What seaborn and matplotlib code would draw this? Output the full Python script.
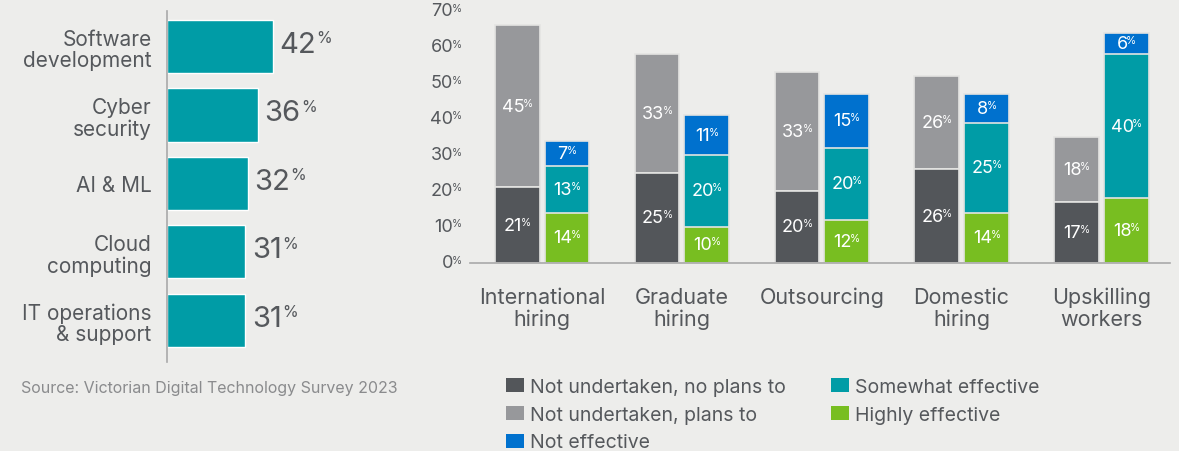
import numpy as np
import pandas as pd
import matplotlib.pyplot as plt
import seaborn as sns
from matplotlib.patches import Patch
from matplotlib.transforms import blended_transform_factory

# Skills in demand (left panel)
skills = ["Software\ndevelopment", "Cyber\nsecurity", "AI & ML", "Cloud\ncomputing", "IT operations\n& support"]
skill_pct = [42, 36, 32, 31, 31]

# Strategies (right panel)
strategies = ["International\nhiring", "Graduate\nhiring", "Outsourcing", "Domestic\nhiring", "Upskilling\nworkers"]
no_plans = [21, 25, 20, 26, 17]
plans_to = [45, 33, 33, 26, 18]
highly = [14, 10, 12, 14, 18]
somewhat = [13, 20, 20, 25, 40]
not_eff = [7, 11, 15, 8, 6]
yticks = [0, 10, 20, 30, 40, 50, 60, 70]

legend_labels = ["Not undertaken, no plans to", "Not undertaken, plans to", "Not effective",
                 "Somewhat effective", "Highly effective"]

# colours
bg = "#ededeb"
txt = "#55585c"
dark = "#53565a"
grey = "#97989b"
blue = "#0071ce"
teal = "#009ca6"
green = "#78be21"
edge = "#e4e4e2"

sns.set_theme(style="white")
plt.rcParams["font.family"] = ["Inter", "DejaVu Sans"]

fig = plt.figure(figsize=(11.79, 4.52), dpi=100, facecolor=bg)

# ---------------- left panel ----------------
axL = fig.add_axes([167 / 1179, 89 / 452, 233 / 1179, 351 / 452])
axL.set_facecolor(bg)
sns.barplot(x=skill_pct, y=skills, color=teal, width=0.775, orient="h",
            saturation=1, errorbar=None, ax=axL)
axL.set_xlim(0, 92.5)
axL.set_ylim(4.61, -0.52)
axL.set_xticks([])
axL.set_xlabel("")
axL.set_ylabel("")
for s in ["top", "right", "bottom"]:
    axL.spines[s].set_visible(False)
axL.spines["left"].set_color("#a9a9a9")
axL.spines["left"].set_linewidth(1.2)
axL.tick_params(axis="y", length=0, pad=11, labelsize=15, labelcolor=txt)
for lbl in axL.get_yticklabels():
    lbl.set_linespacing(1.1)

for i, v in enumerate(skill_pct):
    t = axL.annotate(str(v), xy=(v, i), xytext=(5, 1.5), textcoords="offset points",
                     ha="left", va="center", fontsize=21, color=txt)
    axL.annotate("%", xy=(1, 1), xycoords=t, xytext=(0, 0.5), textcoords="offset points",
                 ha="left", va="top", fontsize=11.5, color=txt)

# ---------------- right panel ----------------
axR = fig.add_axes([470 / 1179, 188 / 452, 700 / 1179, 252 / 452])
axR.set_facecolor(bg)

rows = []
for i, s in enumerate(strategies):
    rows.append(dict(strategy=s, side="left", total=no_plans[i] + plans_to[i],
                     mid=no_plans[i], low=no_plans[i]))
    rows.append(dict(strategy=s, side="right", total=highly[i] + somewhat[i] + not_eff[i],
                     mid=highly[i] + somewhat[i], low=highly[i]))
df = pd.DataFrame(rows)

# draw stacked bars from the top layer down
layers = [("total", grey, blue), ("mid", dark, teal), ("low", dark, green)]
for col, cl, cr in layers:
    sns.barplot(data=df, x="strategy", y=col, hue="side", order=strategies,
                hue_order=["left", "right"], palette={"left": cl, "right": cr},
                width=0.71, gap=0.1, saturation=1, errorbar=None, legend=False,
                edgecolor=edge, linewidth=1.2, ax=axR)

axR.set_ylim(0, 70)
axR.set_xlim(-0.515, 4.49)
axR.set_xlabel("")
axR.set_ylabel("")
axR.set_yticks([])
for s in ["top", "right", "left"]:
    axR.spines[s].set_visible(False)
axR.spines["bottom"].set_color("#a9a9a9")
axR.spines["bottom"].set_linewidth(1.2)
axR.tick_params(axis="x", length=0, pad=17, labelsize=15.5, labelcolor=txt)
for lbl in axR.get_xticklabels():
    lbl.set_linespacing(1.12)

# y tick labels with superscript %
trans = blended_transform_factory(axR.transAxes, axR.transData)
for y in yticks:
    t = axR.text(-17 / 700, y, str(y), transform=trans, ha="right", va="center",
                 fontsize=13, color=txt)
    axR.annotate("%", xy=(1, 1), xycoords=t, xytext=(-1, 0), textcoords="offset points",
                 ha="left", va="top", fontsize=7.5, color=txt)


def seg_label(x, y, v):
    t = axR.annotate(str(v), xy=(x, y), xytext=(-3, 0), textcoords="offset points",
                     ha="center", va="center", fontsize=13, color="white")
    axR.annotate("%", xy=(1, 1), xycoords=t, xytext=(-1, 0), textcoords="offset points",
                 ha="left", va="top", fontsize=7.5, color="white")


off = 0.71 / 4
for i in range(len(strategies)):
    xl, xr = i - off, i + off
    seg_label(xl, no_plans[i] / 2, no_plans[i])
    seg_label(xl, no_plans[i] + plans_to[i] / 2, plans_to[i])
    seg_label(xr, highly[i] / 2, highly[i])
    seg_label(xr, highly[i] + somewhat[i] / 2, somewhat[i])
    seg_label(xr, highly[i] + somewhat[i] + not_eff[i] / 2, not_eff[i])

# ---------------- legend ----------------
leg_colors = [dark, grey, blue, teal, green]
handles = [Patch(facecolor=c, edgecolor="none", label=l) for c, l in zip(leg_colors, legend_labels)]
leg_kw = dict(frameon=False, loc="upper left", fontsize=14, handlelength=0.95, handleheight=0.75,
              handletextpad=0.3, labelspacing=0.5, borderpad=0, borderaxespad=0,
              labelcolor=txt)
fig.legend(handles=handles[:3], bbox_to_anchor=(506 / 1179, 1 - 379 / 452), **leg_kw)
fig.legend(handles=handles[3:], bbox_to_anchor=(831 / 1179, 1 - 379 / 452), **leg_kw)

fig.text(21 / 1179, 1 - 389 / 452, "Source: Victorian Digital Technology Survey 2023",
         ha="left", va="center", fontsize=11.5, color="#8a8b8d")

plt.savefig("out.png", dpi=100, facecolor=bg)
